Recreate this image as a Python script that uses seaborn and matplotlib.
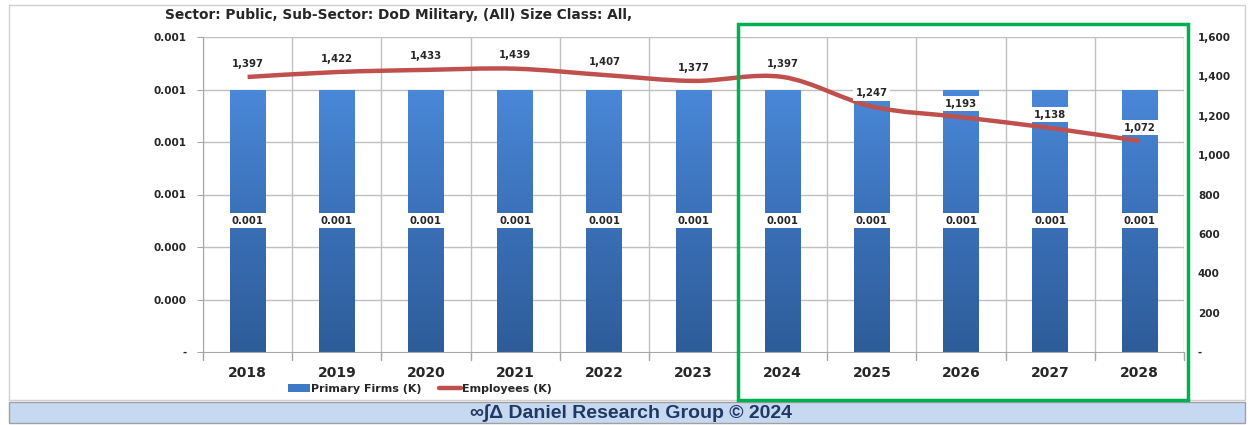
import numpy as np
import pandas as pd
import matplotlib
matplotlib.use('agg')
import matplotlib.pyplot as plt
import seaborn as sns
from matplotlib.path import Path
from matplotlib.patches import PathPatch, Rectangle, Patch
from matplotlib.lines import Line2D
from matplotlib.colors import LinearSegmentedColormap
from matplotlib import transforms

# chart data
years = ['2018', '2019', '2020', '2021', '2022', '2023', '2024', '2025', '2026', '2027', '2028']
firms = [0.001, 0.001, 0.001, 0.001, 0.001, 0.001, 0.001, 0.001, 0.001, 0.001, 0.001]
employees = [1397, 1422, 1433, 1439, 1407, 1377, 1397, 1247, 1193, 1138, 1072]
left_ticks = [0, 0.0002, 0.0004, 0.0006, 0.0008, 0.001, 0.0012]
right_ticks = [0, 200, 400, 600, 800, 1000, 1200, 1400, 1600]

title = 'Sector: Public, Sub-Sector: DoD Military, (All) Size Class: All,'
footer = '∞∫Δ Daniel Research Group © 2024'

sns.set_style('white')
plt.rcParams['font.family'] = ['DejaVu Sans']

df = pd.DataFrame({'year': years, 'firms': firms, 'employees': employees})

fig = plt.figure(figsize=(12.5, 4.25), dpi=100)
ax = fig.add_axes([203/1250, 1-352/425, (1184-203)/1250, (352-37)/425])

sns.barplot(data=df, x='year', y='firms', color='#3F78C4', width=0.4, ax=ax, zorder=2)

# gradient fill on bars
cmap = LinearSegmentedColormap.from_list('bar', ['#2E5C99', '#3A70B8', '#4A88D8'])
grad = np.linspace(0, 1, 256).reshape(-1, 1)
for p in ax.patches:
    x0, y0 = p.get_x(), p.get_y()
    w, h = p.get_width(), p.get_height()
    im = ax.imshow(grad, cmap=cmap, origin='lower', aspect='auto',
                   extent=[x0, x0 + w, y0, y0 + h], zorder=2.1)
    im.set_clip_path(p)
    p.set_edgecolor('none')

ax.set_xlim(-0.5, len(years) - 0.5)
ax.set_ylim(0, 0.0012)
ax.set_yticks(left_ticks)
ax.set_yticklabels(['-' if v == 0 else f'{v:.3f}' for v in left_ticks],
                   fontsize=7.5, fontweight='bold')
ax.set_xticks(range(len(years)))
ax.set_xticklabels(years, fontsize=10, fontweight='bold')
ax.set_xlabel('')
ax.set_ylabel('')
ax.tick_params(axis='x', length=0, pad=10)
ax.tick_params(axis='y', length=4, color='#A6A6A6', pad=8)

# grid lines
for v in left_ticks[1:]:
    ax.axhline(v, color='#C0C0C0', lw=1, zorder=0)
for i in range(len(years) + 1):
    ax.axvline(i - 0.5, color='#C0C0C0', lw=1, zorder=0)
    ax.plot([i - 0.5, i - 0.5], [0, -0.00003], color='#A6A6A6', lw=1, clip_on=False)
for s in ['top', 'right']:
    ax.spines[s].set_visible(False)
for s in ['left', 'bottom']:
    ax.spines[s].set_color('#A6A6A6')

# bar labels
for i, v in enumerate(firms):
    ax.text(i, v / 2, f'{v:.3f}', ha='center', va='center', fontsize=7.3,
            fontweight='bold', zorder=5,
            bbox=dict(boxstyle='square,pad=0.25', fc='white', ec='none'))

# employees line on secondary axis
ax2 = ax.twinx()
ax2.set_ylim(0, 1600)
ax2.set_yticks(right_ticks)
ax2.set_yticklabels(['-' if v == 0 else f'{v:,}' for v in right_ticks],
                    fontsize=7.5, fontweight='bold')
ax2.tick_params(axis='y', length=0, pad=10)
for s in ax2.spines.values():
    s.set_visible(False)

xs = np.arange(len(years), dtype=float)
ys = np.array(employees, dtype=float)
pts = np.column_stack([xs, ys])
ext = np.vstack([pts[0], pts, pts[-1]])
verts = [pts[0]]
codes = [Path.MOVETO]
for i in range(len(pts) - 1):
    p0, p1, p2, p3 = ext[i], ext[i + 1], ext[i + 2], ext[i + 3]
    verts += [p1 + (p2 - p0) / 6, p2 - (p3 - p1) / 6, p2]
    codes += [Path.CURVE4] * 3
ax2.add_patch(PathPatch(Path(verts, codes), fc='none', ec='#C0504D', lw=3.2,
                        capstyle='butt', zorder=3))

for i, v in enumerate(employees):
    ax2.text(i, v + 68, f'{v:,}', ha='center', va='center', fontsize=7.3,
             fontweight='bold', zorder=5,
             bbox=dict(boxstyle='square,pad=0.25', fc='white', ec='none'))

# legend
handles = [Patch(fc='#3F78C4', ec='none', label='Primary Firms (K)'),
           Line2D([], [], color='#C0504D', lw=3.2, label='Employees (K)')]
fig.legend(handles=handles, loc='center', bbox_to_anchor=(420/1250, 1-389/425),
           ncol=2, frameon=False, prop={'size': 8, 'weight': 'bold'},
           handlelength=2.0, handletextpad=0.1, columnspacing=1.5)

fig.text(165/1250, 1-15/425, title, ha='left', va='center', fontsize=9.9, fontweight='bold')

# outer border and footer band
fig.add_artist(Rectangle((9/1250, 1-400/425), 1236/1250, 395/425, transform=fig.transFigure,
                         fc='none', ec='#D0D0D0', lw=1, zorder=0))
fig.add_artist(Rectangle((9/1250, 2/425), 1236/1250, 21/425, transform=fig.transFigure,
                         fc='#C6D9F1', ec='#A0A0A0', lw=1, zorder=1))
fig.text(631/1250, 1-413/425, footer, ha='center', va='center', fontsize=14,
         fontweight='bold', color='#1F3864', family=['Liberation Sans', 'DejaVu Sans'])

# highlight box for forecast years
tr = transforms.blended_transform_factory(ax.transData, fig.transFigure)
fig.add_artist(Rectangle((5.5, 1-400/425), 5.05, 376/425, transform=tr,
                         fc='none', ec='#00B050', lw=2.5, zorder=10))

fig.savefig('out.png', dpi=100)
